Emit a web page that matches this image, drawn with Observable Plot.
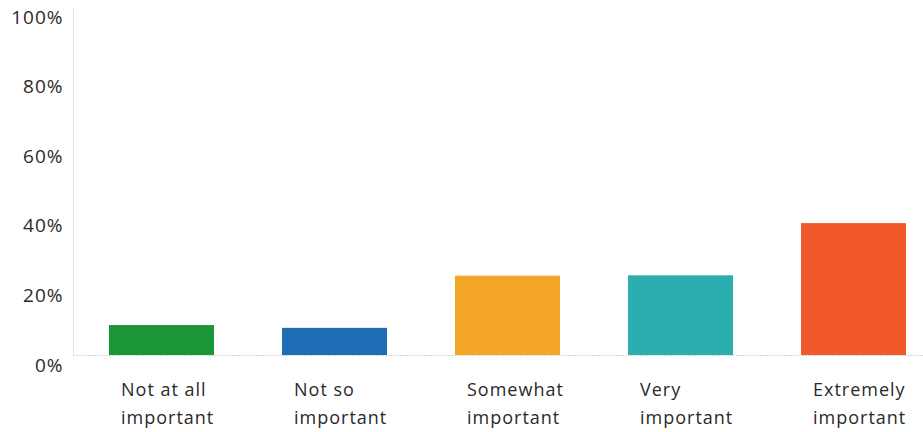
<!DOCTYPE html>
<html>
<head>
<meta charset="utf-8">
<script src="https://cdn.jsdelivr.net/npm/d3@7"></script>
<script src="https://cdn.jsdelivr.net/npm/@observablehq/plot@0.6"></script>
<style>
  html, body { margin: 0; padding: 0; background: #fff; }
  svg { display: block; }
  svg text { letter-spacing: 1px; }
</style>
</head>
<body>
<div id="chart"></div>
<script>
const categories = ["Not at all important", "Not so important", "Somewhat important", "Very important", "Extremely important"];
const labelLine1 = ["Not at all", "Not so", "Somewhat", "Very", "Extremely"];
const labelLine2 = ["important", "important", "important", "important", "important"];
const values = [8.6, 7.8, 22.8, 22.9, 37.9];
const colors = ["#1a9639", "#1c6db4", "#f4a626", "#2aaeb0", "#f2592a"];
const yTicks = [0, 20, 40, 60, 80, 100];

const data = categories.map((c, i) => ({cat: c, value: values[i], l1: labelLine1[i], l2: labelLine2[i]}));

const font = "'Open Sans', Roboto, sans-serif";
const chart = Plot.plot({
  width: 923,
  height: 432,
  marginTop: 7,
  marginBottom: 77,
  marginLeft: 73,
  marginRight: 0,
  style: {fontFamily: font, fontSize: "18px", color: "#2a2a2a", background: "#fff"},
  x: {domain: categories, range: [74, 940], paddingInner: 0.394, paddingOuter: 0.196, axis: null},
  y: {domain: [0, 100], axis: null},
  color: {domain: categories, range: colors},
  marks: [
    Plot.frame({anchor: "left", stroke: "#e4e4e4"}),
    Plot.ruleY([0], {stroke: "#d4d4d4", strokeDasharray: "2,1"}),
    Plot.axisY(yTicks, {stroke: "#e4e4e4", fill: "#2a2a2a", tickSize: 0, tickPadding: 10, dy: 10, fontSize: 19, tickFormat: d => d + "%", label: null}),
    Plot.barY(data, {x: "cat", y: "value", fill: "cat"}),
    Plot.text(data, {x: "cat", text: "l1", frameAnchor: "bottom", dy: 35, dx: -41, textAnchor: "start", lineAnchor: "middle", fontSize: 18, fill: "#2a2a2a"}),
    Plot.text(data, {x: "cat", text: "l2", frameAnchor: "bottom", dy: 63, dx: -41, textAnchor: "start", lineAnchor: "middle", fontSize: 18, fill: "#2a2a2a"})
  ]
});
document.getElementById("chart").appendChild(chart);
</script>
</body>
</html>
